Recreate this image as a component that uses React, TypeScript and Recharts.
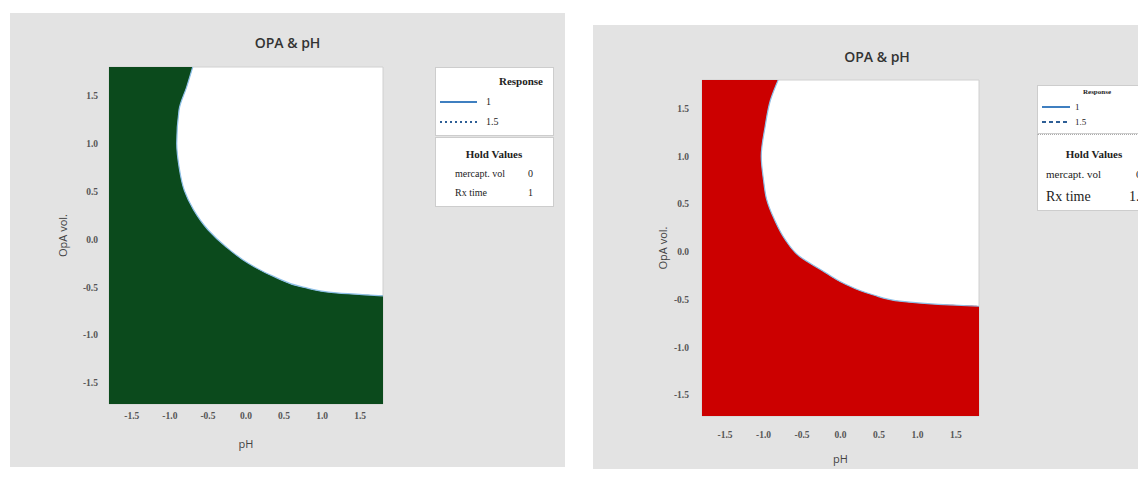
import React from 'react';
import {
  ComposedChart,
  Area,
  Line,
  XAxis,
  YAxis,
  ReferenceArea,
  Label,
} from 'recharts';

// axis ticks, shared by both panels
const axisTicks = [-1.5, -1.0, -0.5, 0.0, 0.5, 1.0, 1.5];
const phDomain = [-1.8, 1.8];
const opaDomain = [-1.72, 1.8];

// edge of the infeasible (coloured) region
// OpA vol. (vertical) -> pH (horizontal)
const greenOpa = [-1.72, -0.59, -0.58, -0.56, -0.5, -0.39, -0.25, -0.08, 0.1, 0.31, 0.51, 0.76, 1.0, 1.35, 1.59, 1.8];
const greenPh = [1.8, 1.8, 1.57, 1.19, 0.75, 0.37, 0.03, -0.26, -0.5, -0.69, -0.81, -0.88, -0.91, -0.88, -0.78, -0.7];

const redOpa = [-1.72, -0.57, -0.55, -0.52, -0.45, -0.33, -0.19, -0.05, 0.13, 0.34, 0.55, 0.75, 1.0, 1.31, 1.59, 1.8];
const redPh = [1.8, 1.8, 1.27, 0.8, 0.42, 0.04, -0.25, -0.53, -0.72, -0.86, -0.96, -1.0, -1.03, -0.98, -0.91, -0.81];

// legend
const responseLevels = ['1', '1.5'];
const holdNames = ['mercapt. vol', 'Rx time'];
const holdLeft = ['0', '1'];
const holdRight = ['0', '1.2'];

const GRAY = '#e3e3e3';
const SERIF = '"Liberation Serif", "Times New Roman", serif';
const SANS = '"Open Sans", "Noto Sans", Arial, sans-serif';

const fmt = (v: number) => v.toFixed(1);

function buildRows(opa: number[], ph: number[]) {
  return opa.map((o, i) => ({ opa: o, ph: ph[i] }));
}

interface PanelProps {
  x: number;
  y: number;
  w: number;
  h: number;
  margin: { top: number; right: number; bottom: number; left: number };
  yAxisWidth: number;
  xTickMargin: number;
  yTickMargin: number;
  phOffset: number;
  titleY: number;
  color: string;
  opa: number[];
  ph: number[];
}

function Panel(p: PanelProps) {
  const rows = buildRows(p.opa, p.ph);
  const contour = rows.slice(1);
  const tickStyle = { fontFamily: SERIF, fontSize: 9.5, fontWeight: 700, fill: '#555' };
  return (
    <div style={{ position: 'absolute', left: p.x, top: p.y, width: p.w, height: p.h, background: GRAY }}>
      <div
        style={{
          position: 'absolute',
          left: 0,
          width: p.w,
          top: p.titleY - 10,
          textAlign: 'center',
          fontFamily: SANS,
          fontSize: 14,
          fontWeight: 600,
          lineHeight: '20px',
          color: '#333',
        }}
      >
        OPA &amp; pH
      </div>
      <ComposedChart layout="vertical" width={p.w} height={p.h} data={rows} margin={p.margin}>
        <XAxis
          type="number"
          domain={phDomain}
          ticks={axisTicks}
          allowDataOverflow
          tickFormatter={fmt}
          axisLine={false}
          tickLine={false}
          tickSize={0}
          tickMargin={p.xTickMargin}
          height={50}
          tick={tickStyle}
        >
          <Label
            value="pH"
            position="insideBottom"
            offset={p.phOffset}
            style={{ fontFamily: SANS, fontSize: 11, fill: '#444' }}
          />
        </XAxis>
        <YAxis
          type="number"
          dataKey="opa"
          domain={opaDomain}
          ticks={axisTicks}
          reversed
          allowDataOverflow
          tickFormatter={fmt}
          axisLine={false}
          tickLine={false}
          tickSize={0}
          tickMargin={p.yTickMargin}
          width={p.yAxisWidth}
          tick={tickStyle}
        >
          <Label
            value="OpA vol."
            angle={-90}
            position="center"
            style={{ fontFamily: SANS, fontSize: 11, fill: '#444' }}
          />
        </YAxis>
        <ReferenceArea
          x1={phDomain[0]}
          x2={phDomain[1]}
          y1={opaDomain[0]}
          y2={opaDomain[1]}
          fill="#fff"
          fillOpacity={1}
          stroke="#d0d0d0"
        />
        <Area
          dataKey="ph"
          type="monotone"
          baseValue="dataMin"
          fill={p.color}
          fillOpacity={1}
          stroke="none"
          isAnimationActive={false}
        />
        <Line
          data={contour}
          dataKey="ph"
          type="monotone"
          stroke="#8fc0e8"
          strokeWidth={1.2}
          dot={false}
          isAnimationActive={false}
        />
      </ComposedChart>
    </div>
  );
}

function Txt({ x, y, size, bold, align, children }: any) {
  const style: React.CSSProperties = {
    position: 'absolute',
    top: y - size * 0.6,
    fontFamily: SERIF,
    fontSize: size,
    fontWeight: bold ? 700 : 400,
    lineHeight: `${size * 1.2}px`,
    color: '#222',
    whiteSpace: 'nowrap',
  };
  if (align === 'right') style.right = 1146 - x;
  else if (align === 'center') {
    style.left = x - 60;
    style.width = 120;
    style.textAlign = 'center';
  } else style.left = x;
  return <div style={style}>{children}</div>;
}

function Sample({ x, y, w, dash, color }: any) {
  return (
    <svg style={{ position: 'absolute', left: x, top: y - 2 }} width={w} height={4}>
      <line x1={0} y1={2} x2={w} y2={2} stroke={color} strokeWidth={2} strokeDasharray={dash} />
    </svg>
  );
}

const boxStyle = (x: number, y: number, w: number, h: number): React.CSSProperties => ({
  position: 'absolute',
  left: x,
  top: y,
  width: w,
  height: h,
  background: '#fff',
  border: '1px solid #cdcdcd',
  boxSizing: 'border-box',
});

function LeftLegend() {
  return (
    <>
      <div style={boxStyle(435, 67, 119, 69)} />
      <div style={boxStyle(435, 137, 119, 70)} />
      <Txt x={543} y={82} size={11} bold align="right">Response</Txt>
      <Sample x={440} y={102} w={37} color="#3f7fc0" />
      <Txt x={486} y={102} size={10}>{responseLevels[0]}</Txt>
      <Sample x={440} y={122} w={37} dash="2 3" color="#2e5f96" />
      <Txt x={486} y={122} size={10}>{responseLevels[1]}</Txt>
      <Txt x={494} y={155} size={11} bold align="center">Hold Values</Txt>
      <Txt x={455} y={174} size={10}>{holdNames[0]}</Txt>
      <Txt x={528} y={174} size={10}>{holdLeft[0]}</Txt>
      <Txt x={455} y={193} size={10}>{holdNames[1]}</Txt>
      <Txt x={528} y={193} size={10}>{holdLeft[1]}</Txt>
    </>
  );
}

function RightLegend() {
  return (
    <>
      <div style={boxStyle(1037, 85, 140, 49)} />
      <div style={{ ...boxStyle(1037, 134, 140, 77), borderTop: '1px dotted #aaa' }} />
      <Txt x={1097} y={92} size={7} bold align="center">Response</Txt>
      <Sample x={1042} y={107} w={28} color="#3f7fc0" />
      <Txt x={1075} y={107} size={9}>{responseLevels[0]}</Txt>
      <Sample x={1042} y={122} w={28} dash="4 3" color="#2e5f96" />
      <Txt x={1075} y={122} size={9}>{responseLevels[1]}</Txt>
      <Txt x={1094} y={155} size={11} bold align="center">Hold Values</Txt>
      <Txt x={1046} y={175} size={11}>{holdNames[0]}</Txt>
      <Txt x={1136} y={175} size={11}>{holdRight[0]}</Txt>
      <Txt x={1046} y={197} size={14}>{holdNames[1]}</Txt>
      <Txt x={1129} y={197} size={14}>{holdRight[1]}</Txt>
    </>
  );
}

export default function App() {
  return (
    <div
      style={{
        position: 'relative',
        margin: -8,
        width: 1146,
        height: 477,
        overflow: 'hidden',
        background: '#fff',
      }}
    >
      <Panel
        x={10}
        y={13}
        w={555}
        h={454}
        margin={{ top: 54, right: 182, bottom: 13, left: 7 }}
        yAxisWidth={92}
        xTickMargin={8}
        yTickMargin={11}
        phOffset={6}
        titleY={30}
        color="#0b4a1c"
        opa={greenOpa}
        ph={greenPh}
      />
      <Panel
        x={593}
        y={25}
        w={568}
        h={446}
        margin={{ top: 55, right: 182, bottom: 5, left: 31 }}
        yAxisWidth={78}
        xTickMargin={15}
        yTickMargin={13}
        phOffset={3}
        titleY={32}
        color="#cc0000"
        opa={redOpa}
        ph={redPh}
      />
      <LeftLegend />
      <RightLegend />
    </div>
  );
}
